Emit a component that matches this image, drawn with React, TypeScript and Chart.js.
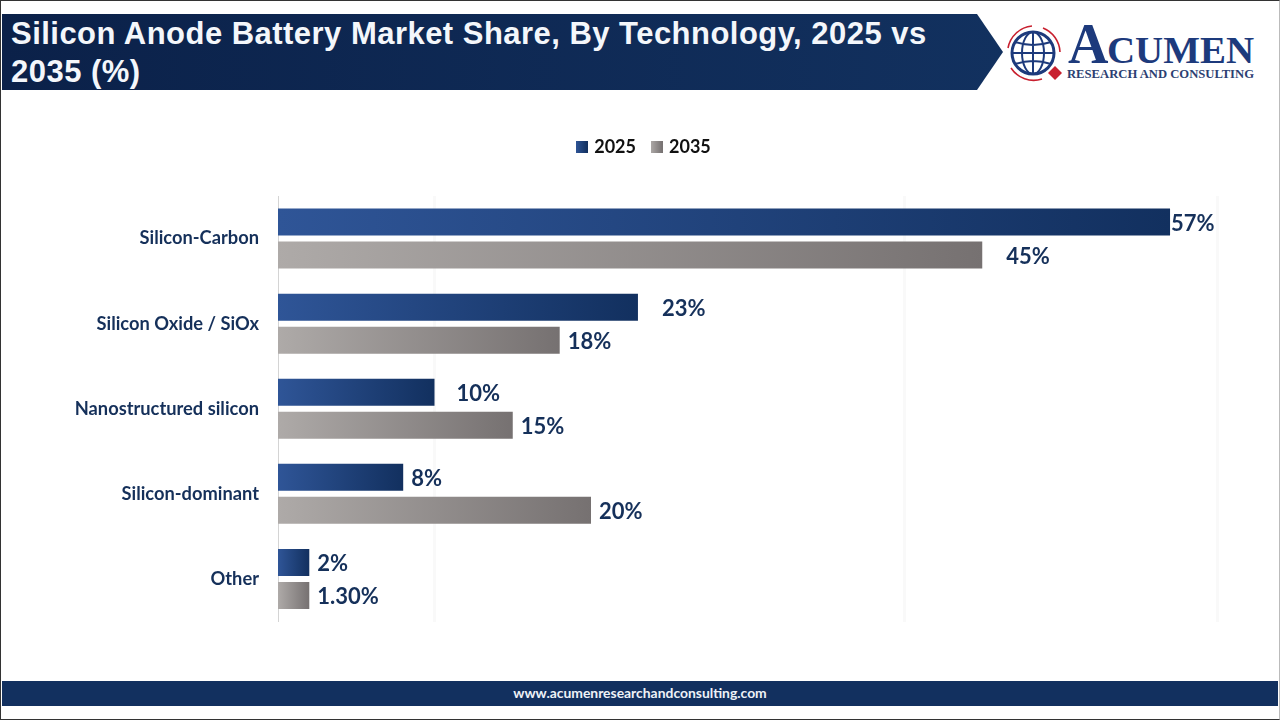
import React, { useEffect, useRef } from 'react';
import { Chart, registerables } from 'chart.js';

Chart.register(...registerables);

const categories = ['Silicon-Carbon', 'Silicon Oxide / SiOx', 'Nanostructured silicon', 'Silicon-dominant', 'Other'];
const share2025 = [57, 23, 10, 8, 2];
// the last bar in the picture is as long as the 2% one, even though its label says 1.30%
const share2035 = [45, 18, 15, 20, 2];
const labels2025 = ['57%', '23%', '10%', '8%', '2%'];
const labels2035 = ['45%', '18%', '15%', '20%', '1.30%'];
const xTicks = [10, 40, 60];

// gap between bar end and its label, the original labels are not evenly placed
const gaps2025 = [1, 24, 22, 8, 8];
const gaps2035 = [24, 8, 8, 8, 8];

const BLUE = ['#2f5597', '#12305f'];
const GREY = ['#aeaaa8', '#767171'];
const INK = '#15305a';

function barGradient(colors: string[]) {
    return (context: any) => {
        const { chart, parsed } = context;
        const scale = chart.scales.x;
        if (!scale || !parsed) return colors[1];
        const gradient = chart.ctx.createLinearGradient(scale.getPixelForValue(0), 0, scale.getPixelForValue(parsed.x), 0);
        gradient.addColorStop(0, colors[0]);
        gradient.addColorStop(1, colors[1]);
        return gradient;
    };
}

function legendSwatch(colors: string[]) {
    const swatch = document.createElement('canvas');
    swatch.width = 12;
    swatch.height = 12;
    const ctx = swatch.getContext('2d');
    if (ctx) {
        const gradient = ctx.createLinearGradient(0, 0, 12, 0);
        gradient.addColorStop(0, colors[0]);
        gradient.addColorStop(1, colors[1]);
        ctx.fillStyle = gradient;
        ctx.fillRect(0, 0, 12, 12);
    }
    return swatch;
}

const barLabels = {
    id: 'barLabels',
    afterDatasetsDraw(chart: any) {
        const { ctx } = chart;
        ctx.save();
        ctx.font = 'bold 22px Lato';
        ctx.fillStyle = INK;
        ctx.textAlign = 'left';
        ctx.textBaseline = 'middle';
        [labels2025, labels2035].forEach((texts, i) => {
            const gaps = i === 0 ? gaps2025 : gaps2035;
            chart.getDatasetMeta(i).data.forEach((bar: any, j: number) => {
                ctx.fillText(texts[j], bar.x + gaps[j], bar.y + 1.5);
            });
        });
        ctx.restore();
    },
};

// keeps the empty space between legend and plot
const legendSpace = {
    id: 'legendSpace',
    beforeLayout(chart: any) {
        const legend = chart.legend;
        if (!legend || legend.spaced) return;
        const fit = legend.fit;
        legend.fit = function () {
            fit.call(this);
            this.height = 75;
        };
        legend.spaced = true;
    },
};

function Logo() {
    const navy = '#1d3a7c';
    const red = '#c8202f';
    return (
        <svg width={280} height={90} viewBox="1000 0 280 90" style={{ position: 'absolute', left: 1000, top: 0 }}>
            <circle cx={1033} cy={53} r={21} fill="#fff" stroke={navy} strokeWidth={3} />
            <ellipse cx={1033} cy={53} rx={11} ry={21} fill="none" stroke={navy} strokeWidth={2} />
            <path d="M1012 53H1054M1015 42Q1033 48 1051 42M1015 64Q1033 58 1051 64M1033 32V74" fill="none" stroke={navy} strokeWidth={2} />
            <path d="M1008 48A27 27 0 0 1 1032 26M1043 28A27 27 0 0 1 1060 52M1011 68A27 27 0 0 0 1042 79" fill="none" stroke={red} strokeWidth={1.6} />
            <path d="M1055 66L1062 73L1055 80L1048 73Z" fill={red} />
            <text x={1068} y={63} fontFamily="Liberation Serif" fontWeight="bold" fontSize={56} fill={navy}>A</text>
            <text x={1107} y={63} fontFamily="Liberation Serif" fontWeight="bold" fontSize={37} fill={navy} textLength={147} lengthAdjust="spacingAndGlyphs">CUMEN</text>
            <text x={1067} y={78} fontFamily="Liberation Serif" fontWeight="bold" fontSize={13} fill="#2c3f72" textLength={187} lengthAdjust="spacingAndGlyphs">RESEARCH AND CONSULTING</text>
        </svg>
    );
}

function App() {
    const chartRef = useRef<HTMLCanvasElement | null>(null);
    const chartInstance = useRef<Chart | null>(null);

    useEffect(() => {
        const ctx = chartRef.current?.getContext('2d');
        if (!ctx) return;

        chartInstance.current = new Chart(ctx, {
            type: 'bar',
            data: {
                labels: categories,
                datasets: [
                    { label: '2025', data: share2025, backgroundColor: barGradient(BLUE) },
                    { label: '2035', data: share2035, backgroundColor: barGradient(GREY) },
                ],
            },
            options: {
                indexAxis: 'y',
                responsive: false,
                animation: false,
                categoryPercentage: 0.776,
                barPercentage: 0.818,
                layout: { padding: { left: 72, right: 63, top: 121, bottom: 98.5 } },
                plugins: {
                    tooltip: { enabled: false },
                    legend: {
                        position: 'top',
                        labels: {
                            usePointStyle: true,
                            boxWidth: 7,
                            boxHeight: 12,
                            padding: 17,
                            color: '#111',
                            font: { family: 'Lato', weight: 'bold', size: 18 },
                            generateLabels: () => [
                                { text: '2025', pointStyle: legendSwatch(BLUE), datasetIndex: 0, fontColor: '#111' },
                                { text: '2035', pointStyle: legendSwatch(GREY), datasetIndex: 1, fontColor: '#111' },
                            ],
                        },
                    },
                },
                scales: {
                    x: {
                        min: 0,
                        max: 60,
                        afterBuildTicks: (axis: any) => {
                            axis.ticks = xTicks.map(value => ({ value }));
                        },
                        ticks: { display: false },
                        border: { display: false },
                        grid: { color: '#f9f9f9', lineWidth: 3, drawTicks: false },
                    },
                    y: {
                        afterFit: (axis: any) => {
                            axis.width = 206;
                        },
                        ticks: {
                            padding: 19,
                            color: INK,
                            font: { family: 'Lato', weight: 'bold', size: 18.3 },
                        },
                        border: { color: '#d4d4d4', width: 1 },
                        grid: { display: false, drawTicks: false },
                    },
                },
            },
            plugins: [legendSpace, barLabels],
        });

        return () => {
            chartInstance.current?.destroy();
        };
    }, []);

    return (
        <div style={{ position: 'absolute', left: 0, top: 0, width: 1280, height: 720, background: '#fff', overflow: 'hidden' }}>
            <div style={{
                position: 'absolute', left: 2, top: 14, width: 1001, height: 76,
                background: 'linear-gradient(90deg, #0b2149, #12315f)',
                clipPath: 'polygon(0 0, 975px 0, 1001px 38px, 975px 76px, 0 76px)',
            }} />
            <div style={{
                position: 'absolute', left: 11, top: 15, width: 960,
                fontFamily: 'Liberation Sans', fontWeight: 'bold', fontSize: 31, lineHeight: '38px',
                letterSpacing: 0.47, color: '#f4f7fb',
            }}>
                Silicon Anode Battery Market Share, By Technology, 2025 vs 2035 (%)
            </div>
            <Logo />
            <canvas ref={chartRef} width={1280} height={720} style={{ position: 'absolute', left: 0, top: 0, display: 'block' }} />
            <div style={{
                position: 'absolute', left: 2, top: 681, width: 1276, height: 25, background: '#12305f',
                color: '#eef2f7', fontFamily: 'Lato', fontWeight: 'bold', fontSize: 13.9, lineHeight: '24px', textAlign: 'center',
            }}>
                www.acumenresearchandconsulting.com
            </div>
            <div style={{ position: 'absolute', inset: 0, border: '1px solid #333', borderRightColor: '#bbb', pointerEvents: 'none' }} />
        </div>
    );
}

export default App;
